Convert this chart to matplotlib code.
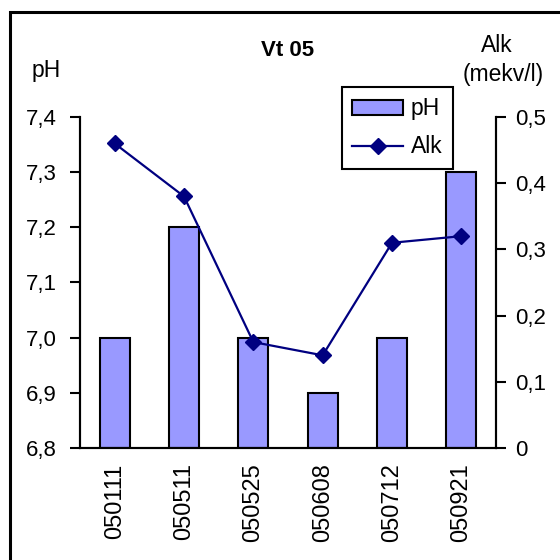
#!/usr/bin/env python3
"""Vt 05: pH bars with alkalinity line on a secondary axis."""

import matplotlib
matplotlib.use("Agg")
import matplotlib.pyplot as plt
from matplotlib.patches import Rectangle
from matplotlib.ticker import FuncFormatter, MultipleLocator

plt.rcParams["font.family"] = ["Liberation Sans", "DejaVu Sans"]

dates = ["050111", "050511", "050525", "050608", "050712", "050921"]
ph = [7.0, 7.2, 7.0, 6.9, 7.0, 7.3]
alk = [0.46, 0.38, 0.16, 0.14, 0.31, 0.32]

PH_MIN, PH_MAX = 6.8, 7.4
W, H = 560, 560
FS = 16


def comma(v, _pos, nd=1):
    if abs(v) < 1e-9:
        return "0"
    return f"{v:.{nd}f}".replace(".", ",")


fig = plt.figure(figsize=(W / 100, H / 100), dpi=100)
ax = fig.add_axes([80 / W, 1 - 448 / H, (496 - 80) / W, (448 - 117) / H])
ax2 = ax.twinx()

x = list(range(len(dates)))
bars = ax.bar(x, [v - PH_MIN for v in ph], bottom=PH_MIN, width=0.43,
              color="#9999FF", edgecolor="black", linewidth=1.5, label="pH")
ax.set_xlim(-0.5, len(dates) - 0.5)
ax.set_ylim(PH_MIN, PH_MAX)
ax.yaxis.set_major_locator(MultipleLocator(0.1))
ax.yaxis.set_major_formatter(FuncFormatter(lambda v, p: f"{v:.1f}".replace(".", ",")))
ax.set_xticks(x)
ax.set_xticklabels(dates, rotation=90, fontsize=17)
ax.tick_params(axis="x", length=0, pad=11)
ax.tick_params(axis="y", direction="out", length=7, width=1.5, labelsize=FS, pad=10)

line, = ax2.plot(x, alk, color="#000080", linewidth=1.6, marker="D",
                 markersize=8, label="Alk")
ax2.set_ylim(0, 0.5)
ax2.yaxis.set_major_locator(MultipleLocator(0.1))
ax2.yaxis.set_major_formatter(FuncFormatter(comma))
ax2.tick_params(axis="y", direction="out", length=7, width=1.5, labelsize=FS, pad=7)

for a in (ax, ax2):
    a.spines["top"].set_visible(False)
    for s in ("left", "right", "bottom"):
        a.spines[s].set_linewidth(1.5)

leg = ax2.legend(handles=[bars, line], loc="upper left",
                 bbox_to_anchor=((342 - 80) / 416, 1 + (117 - 87) / 331),
                 fontsize=FS + 0.5, frameon=True, fancybox=False, framealpha=1,
                 edgecolor="black", borderpad=0.45, labelspacing=0.65,
                 handlelength=2.2, handleheight=0.6, handletextpad=0.35,
                 borderaxespad=0)
leg.get_frame().set_linewidth(1.5)

fig.text(288 / W, 1 - 50 / H, "Vt 05", ha="center", va="center",
         fontsize=16, fontweight="bold")
fig.text(46 / W, 1 - 70 / H, "pH", ha="center", va="center", fontsize=FS + 0.5)
fig.text(497 / W, 1 - 45 / H, "Alk", ha="center", va="center", fontsize=FS + 0.5)
fig.text(503 / W, 1 - 75 / H, "(mekv/l)", ha="center", va="center", fontsize=FS + 0.5)

# outer chart border, cut off on the right and bottom like the original
fig.add_artist(Rectangle((10 / W, -0.05), 1.1, 1 - 12 / H + 0.05,
                         transform=fig.transFigure, fill=False,
                         edgecolor="black", linewidth=2.2))

fig.savefig("out.png", dpi=100)
